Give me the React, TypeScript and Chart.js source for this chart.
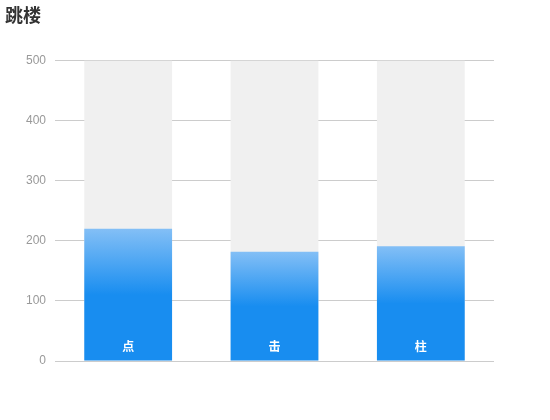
import { useEffect, useRef } from "react";
import { Chart, registerables } from "chart.js";
import type { Plugin } from "chart.js";

Chart.register(...registerables);

const titleText = "跳楼";
const categories = ["点", "击", "柱"];
const values = [220, 182, 191];
const shadowValues = [500, 500, 500];
const yTicks = [0, 100, 200, 300, 400, 500];

// draws the category name inside each bar, near its base
const insideLabels: Plugin<"bar"> = {
  id: "insideLabels",
  afterDatasetsDraw(chart) {
    const meta = chart.getDatasetMeta(1);
    const ctx = chart.ctx;
    ctx.save();
    ctx.fillStyle = "#ffffff";
    ctx.font = 'bold 12px "Noto Sans CJK SC", sans-serif';
    ctx.textAlign = "center";
    ctx.textBaseline = "middle";
    meta.data.forEach((el: any, i) => {
      ctx.fillText(categories[i], el.x, el.base - 14);
    });
    ctx.restore();
  },
};

export default function App() {
  const canvasRef = useRef<HTMLCanvasElement>(null);
  const chartRef = useRef<Chart | null>(null);

  useEffect(() => {
    if (!canvasRef.current) return;
    if (chartRef.current) chartRef.current.destroy();

    Chart.defaults.font.family = '"Liberation Sans", "Noto Sans CJK SC", sans-serif';

    chartRef.current = new Chart(canvasRef.current, {
      type: "bar",
      data: {
        labels: categories,
        datasets: [
          {
            label: "shadow",
            data: shadowValues,
            backgroundColor: "#f0f0f0",
            grouped: false,
            order: 2,
            categoryPercentage: 0.6,
            barPercentage: 1,
          },
          {
            label: titleText,
            data: values,
            grouped: false,
            order: 1,
            categoryPercentage: 0.6,
            barPercentage: 1,
            backgroundColor: (context) => {
              const chart = context.chart;
              const { ctx, chartArea, scales } = chart;
              if (!chartArea || !scales.y) return "#188df0";
              const v = context.raw as number;
              const top = scales.y.getPixelForValue(v);
              const base = scales.y.getPixelForValue(0);
              if (!isFinite(top) || !isFinite(base)) return "#188df0";
              const g = ctx.createLinearGradient(0, top, 0, base);
              g.addColorStop(0, "#83bff6");
              g.addColorStop(0.5, "#188df0");
              g.addColorStop(1, "#188df0");
              return g;
            },
          },
        ],
      },
      options: {
        responsive: true,
        maintainAspectRatio: false,
        animation: false,
        layout: {
          padding: { left: 5, right: 56, top: 0, bottom: 59 },
        },
        plugins: {
          legend: { display: false },
          tooltip: { enabled: false },
          title: {
            display: true,
            text: titleText,
            align: "start",
            color: "#333333",
            font: {
              size: 18,
              weight: "bold",
              family: '"Noto Sans CJK SC", sans-serif',
            },
            padding: { top: 4, bottom: 35 },
          },
        },
        scales: {
          x: {
            display: false,
            grid: { display: false },
          },
          y: {
            min: 0,
            max: 500,
            afterFit: (scale) => {
              scale.width = 50;
            },
            afterBuildTicks: (scale) => {
              scale.ticks = yTicks.map((v) => ({ value: v }));
            },
            border: { display: false },
            grid: {
              color: "#cccccc",
              drawTicks: false,
            },
            ticks: {
              color: "#999999",
              padding: 9,
              font: { size: 12 },
            },
          },
        },
      },
      plugins: [insideLabels],
    });

    return () => {
      if (chartRef.current) {
        chartRef.current.destroy();
        chartRef.current = null;
      }
    };
  }, []);

  return (
    <div
      style={{
        position: "fixed",
        left: 0,
        top: 0,
        width: 550,
        height: 420,
        background: "#ffffff",
      }}
    >
      <canvas ref={canvasRef} />
    </div>
  );
}
